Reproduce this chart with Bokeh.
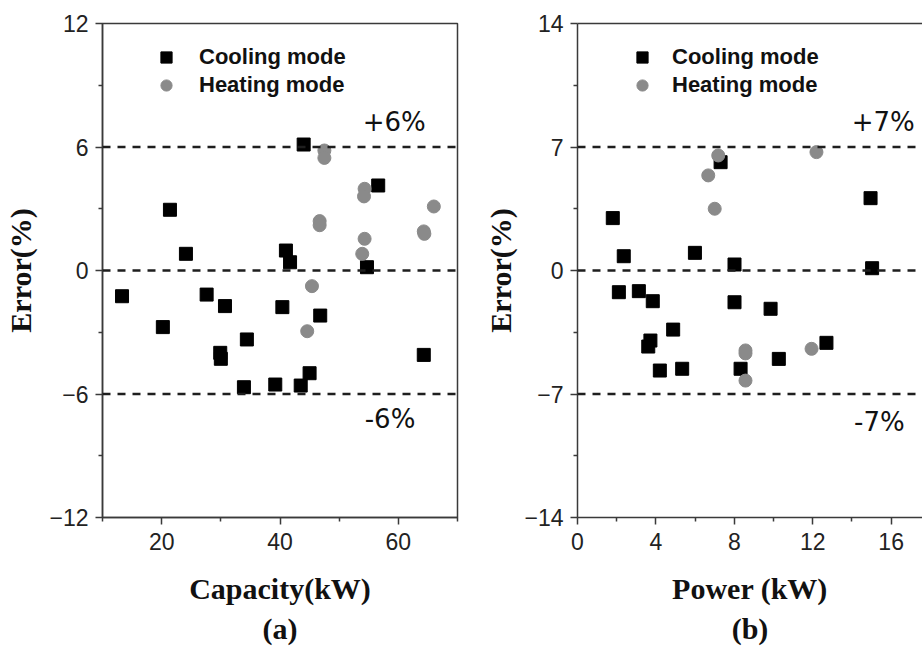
from bokeh.plotting import figure
from bokeh.layouts import row
from bokeh.models import (FixedTicker, Span, Label, Legend, LegendItem, Title,
                          LinearAxis, Range1d)
from bokeh.embed import file_html
from bokeh.resources import INLINE

# ---------------- data ----------------
cap_cool_x = [21.4, 24.1, 13.3, 27.6, 30.7, 20.2, 34.4, 29.9, 30.0, 33.9, 39.2,
              40.4, 41.0, 41.7, 44.0, 56.6, 54.7, 46.8, 64.3, 45.0, 43.5]
cap_cool_y = [2.95, 0.81, -1.25, -1.17, -1.73, -2.75, -3.35, -4.0, -4.29, -5.67, -5.54,
              -1.78, 0.97, 0.4, 6.12, 4.13, 0.16, -2.19, -4.1, -4.99, -5.59]
cap_heat_x = [47.5, 47.5, 54.3, 54.2, 66.0, 46.7, 46.7, 64.3, 64.4, 54.3, 53.9, 45.4, 44.6]
cap_heat_y = [5.83, 5.47, 3.97, 3.6, 3.11, 2.4, 2.2, 1.9, 1.78, 1.54, 0.81, -0.76, -2.95]

pow_cool_x = [1.80, 2.36, 5.99, 8.01, 7.30, 2.11, 3.13, 3.84, 8.01, 4.88, 3.72, 3.61,
              4.2, 5.34, 8.32, 14.95, 15.03, 9.85, 12.7, 10.27]
pow_cool_y = [2.97, 0.81, 1.0, 0.34, 6.14, -1.23, -1.17, -1.74, -1.8, -3.35, -3.97, -4.31,
              -5.67, -5.57, -5.57, 4.1, 0.13, -2.17, -4.1, -5.01]
pow_heat_x = [7.18, 6.67, 7.0, 8.57, 8.57, 8.57, 12.19, 11.94]
pow_heat_y = [6.52, 5.39, 3.5, -4.53, -4.7, -6.24, 6.71, -4.44]

cap_limits = [6, 0, -6]
pow_limits = [7, 0, -7]
cap_yticks = [-12, -6, 0, 6, 12]
cap_yminor = [-9, -3, 3, 9]
cap_xticks = [20, 40, 60]
cap_xminor = [10, 30, 50, 70]
pow_yticks = [-14, -7, 0, 7, 14]
pow_yminor = [-10.5, -3.5, 3.5, 10.5]
pow_xticks = [0, 4, 8, 12, 16]
pow_xminor = [2, 6, 10, 14]

AXC = "#3a3a3a"
GRAY = "#8a8a8a"
TICKFONT = "Liberation Sans"
SERIF = "Liberation Serif"


def style_axis(ax, ticks, minor):
    ax.ticker = FixedTicker(ticks=ticks, minor_ticks=minor)
    ax.axis_line_color = AXC
    ax.axis_line_width = 1.5
    ax.major_tick_line_color = AXC
    ax.minor_tick_line_color = AXC
    ax.major_tick_line_width = 1.5
    ax.minor_tick_line_width = 1.5
    ax.major_tick_in = 0
    ax.major_tick_out = 7
    ax.minor_tick_in = 0
    ax.minor_tick_out = 4
    ax.major_label_text_font = TICKFONT
    ax.major_label_text_font_size = "23px"
    ax.major_label_text_color = "#222222"
    ax.axis_label_text_font = SERIF
    ax.axis_label_text_font_size = "30px"
    ax.axis_label_text_font_style = "bold"
    ax.axis_label_text_color = "#111111"


def make_panel(width, left, frame_w, xr, yr, xt, xm, yt, ym, xlabel, tag,
               cx, cy, hx, hy, limits, plus_lab, minus_lab, glyph_standoff, leg_x,
               ylab_standoff, full_box):
    p = figure(width=width, height=649, output_backend="svg", toolbar_location=None,
               x_range=Range1d(*xr), y_range=Range1d(*yr),
               min_border_left=left, min_border_right=width - left - frame_w,
               min_border_top=23, min_border_bottom=132)
    p.grid.visible = False
    p.background_fill_color = "white"
    p.border_fill_color = "white"
    xax = p.below[0]
    yax = p.left[0]
    style_axis(xax, xt, xm)
    style_axis(yax, yt, ym)
    xax.major_label_standoff = 8
    yax.major_label_standoff = 7
    xax.axis_label = xlabel
    yax.axis_label = "Error(%)"
    xax.axis_label_standoff = 19
    yax.axis_label_standoff = ylab_standoff
    if full_box:
        p.outline_line_color = AXC
        p.outline_line_width = 1.5
    else:
        p.outline_line_color = None
        top = LinearAxis(ticker=FixedTicker(ticks=[]), major_label_text_font_size="0px",
                         major_label_standoff=0)
        top.axis_line_color = AXC
        top.axis_line_width = 1.5
        top.major_tick_line_color = None
        top.minor_tick_line_color = None
        top.major_tick_out = 0
        top.minor_tick_out = 0
        p.add_layout(top, "above")

    for v in limits:
        p.add_layout(Span(location=v, dimension="width", line_color="#1e1e1e",
                          line_width=2.6, line_dash="8 7"))

    rc = p.scatter(cx, cy, marker="square", size=13, color="black")
    rh = p.scatter(hx, hy, marker="circle", size=13, color=GRAY)

    leg = Legend(items=[LegendItem(label="Cooling mode", renderers=[rc]),
                        LegendItem(label="Heating mode", renderers=[rh])],
                 location=(leg_x, 418), padding=0, margin=0, spacing=0,
                 border_line_color=None, background_fill_alpha=0,
                 glyph_width=28, glyph_height=28, label_height=26,
                 label_standoff=glyph_standoff,
                 label_text_font=TICKFONT, label_text_font_size="22px",
                 label_text_font_style="bold", label_text_color="#111111")
    p.add_layout(leg, "center")

    for (lx, ly, txt) in [plus_lab, minus_lab]:
        p.add_layout(Label(x=lx, y=ly, text=txt, text_align="center", text_baseline="middle",
                           text_font="DejaVu Sans", text_font_size="26px", text_color="#111111"))

    t = Title(text=tag, align="center", text_font=SERIF, text_font_size="30px",
              text_font_style="bold", text_color="#111111", standoff=5)
    p.add_layout(t, "below")
    return p


pa = make_panel(465, 102, 355, (10, 70), (-12, 12), cap_xticks, cap_xminor, cap_yticks, cap_yminor,
                "Capacity(kW)", "(a)", cap_cool_x, cap_cool_y, cap_heat_x, cap_heat_y,
                cap_limits, (59.3, 7.2, "+6%"), (58.6, -7.2, "-6%"), 19, 50, 9, True)
pb = make_panel(457, 112, 345, (0, 17.6), (-14, 14), pow_xticks, pow_xminor, pow_yticks, pow_yminor,
                "Power (kW)", "(b)", pow_cool_x, pow_cool_y, pow_heat_x, pow_heat_y,
                pow_limits, (15.6, 8.4, "+7%"), (15.4, -8.6, "-7%"), 16, 51, 4, False)

layout = row(pa, pb, spacing=0)
open("out.html", "w").write(file_html(layout, INLINE))
